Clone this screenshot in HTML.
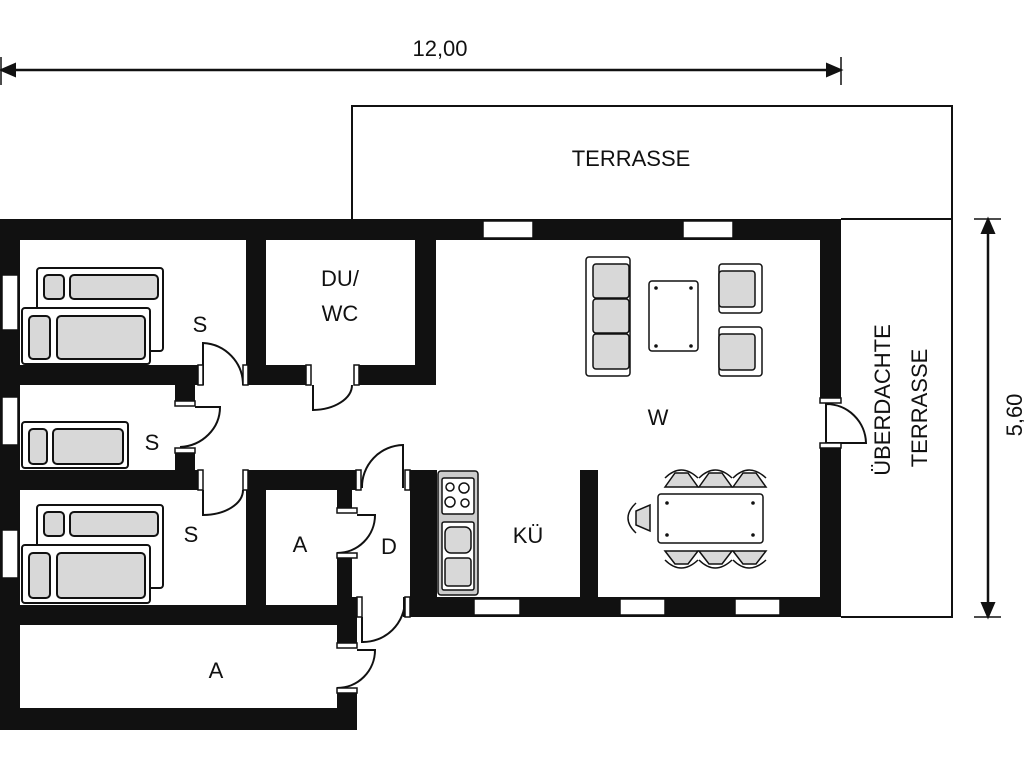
<!DOCTYPE html>
<html><head><meta charset="utf-8"><style>
html,body{margin:0;padding:0;background:#fff;}
svg{display:block;}
text{font-family:"Liberation Sans",sans-serif;fill:#111;}
</style></head><body>
<svg width="1024" height="768" viewBox="0 0 1024 768" xmlns="http://www.w3.org/2000/svg">
<defs>
<marker id="ar" viewBox="0 0 10 10" refX="10" refY="5" markerWidth="10" markerHeight="10" markerUnits="userSpaceOnUse" orient="auto"><path d="M0,1 L10,5 L0,9Z" fill="#111"/></marker>
</defs>
<g stroke="#111" stroke-width="2" fill="none">
<!-- dimension lines -->
<line x1="3" y1="70" x2="838" y2="70" stroke-width="2.5"/>
<path d="M1,70 l14,-6 v12z" fill="#111"/>
<path d="M841,70 l-14,-6 v12z" fill="#111"/>
<line x1="1" y1="57" x2="1" y2="85" stroke-width="1.5"/>
<line x1="841" y1="57" x2="841" y2="85" stroke-width="1.5"/>
<line x1="988" y1="222" x2="988" y2="614" stroke-width="2.5"/>
<path d="M988,219 l-6,14 h12z" fill="#111"/>
<path d="M988,617 l-6,-14 h12z" fill="#111"/>
<line x1="974" y1="219" x2="1001" y2="219" stroke-width="1.5"/>
<line x1="974" y1="617" x2="1001" y2="617" stroke-width="1.5"/>
<!-- terraces -->
<path d="M352,219 V106 H952 V617 H841"/>
<line x1="841" y1="219" x2="952" y2="219"/>
</g>
<!-- walls -->
<g fill="#111">
<rect x="0" y="219" width="841" height="21"/>
<rect x="0" y="219" width="20" height="511"/>
<rect x="820" y="219" width="21" height="398"/>
<rect x="403" y="597" width="438" height="20"/>
<rect x="0" y="708" width="357" height="22"/>
<rect x="337" y="470" width="20" height="260"/>
<rect x="246" y="240" width="20" height="145"/>
<rect x="415" y="219" width="21" height="166"/>
<rect x="0" y="365" width="436" height="20"/>
<rect x="175" y="365" width="20" height="125"/>
<rect x="0" y="470" width="357" height="20"/>
<rect x="246" y="470" width="20" height="135"/>
<rect x="0" y="605" width="357" height="20"/>
<rect x="357" y="470" width="80" height="20"/>
<rect x="410" y="470" width="27" height="147"/>
<rect x="580" y="470" width="18" height="130"/>
</g>
<!-- openings: windows & door gaps -->
<g fill="#fff" stroke="#111" stroke-width="1.5">
<!-- top windows -->
<rect x="483" y="221" width="50" height="17"/>
<rect x="683" y="221" width="50" height="17"/>
<!-- left windows -->
<rect x="2" y="275" width="16" height="55"/>
<rect x="2" y="397" width="16" height="48"/>
<rect x="2" y="530" width="16" height="48"/>
<!-- bottom windows -->
<rect x="474" y="599" width="46" height="16"/>
<rect x="620" y="599" width="45" height="16"/>
<rect x="735" y="599" width="45" height="16"/>
</g>
<g fill="#fff">
<rect x="200" y="364" width="46" height="22"/>
<rect x="307" y="364" width="50" height="22"/>
<rect x="174" y="403" width="22" height="47"/>
<rect x="200" y="469" width="46" height="22"/>
<rect x="357" y="469" width="53" height="22"/>
<rect x="336" y="510" width="22" height="45"/>
<rect x="357" y="596" width="46" height="22"/>
<rect x="336" y="645" width="22" height="45"/>
<rect x="819" y="400" width="23" height="45"/>
<rect x="352" y="490" width="58" height="107"/>
</g>
<!-- doors -->
<g stroke="#111" stroke-width="2" fill="none">
<path d="M203,385 V343 A42,42 0 0 1 243,385"/>
<path d="M313,385 V410 A40,25 0 0 0 352,385"/>
<path d="M195,407 H220 A42,40 0 0 1 180,447"/>
<path d="M203,490 V515 A40,25 0 0 0 243,490"/>
<path d="M403,488 V445 A42,42 0 0 0 362,488"/>
<path d="M357,515 H375 A38,38 0 0 1 337,553"/>
<path d="M362,617 V642 A42,42 0 0 0 405,600"/>
<path d="M357,650 H375 A38,38 0 0 1 337,688"/>
<path d="M826,445 V404 A40,40 0 0 1 866,443 H826"/>
</g>
<g stroke="#111" stroke-width="1.5" fill="#fff">
<rect x="198" y="365" width="5" height="20"/><rect x="243" y="365" width="5" height="20"/>
<rect x="306" y="365" width="5" height="20"/><rect x="354" y="365" width="5" height="20"/>
<rect x="175" y="401" width="20" height="5"/><rect x="175" y="448" width="20" height="5"/>
<rect x="198" y="470" width="5" height="20"/><rect x="243" y="470" width="5" height="20"/>
<rect x="356" y="470" width="5" height="20"/><rect x="405" y="470" width="5" height="20"/>
<rect x="337" y="508" width="20" height="5"/><rect x="337" y="553" width="20" height="5"/>
<rect x="357" y="597" width="5" height="20"/><rect x="405" y="597" width="5" height="20"/>
<rect x="337" y="643" width="20" height="5"/><rect x="337" y="688" width="20" height="5"/>
<rect x="820" y="398" width="21" height="5"/><rect x="820" y="443" width="21" height="5"/>
</g>
<!-- beds -->
<g stroke="#111" stroke-width="2">
<rect x="37" y="268" width="126" height="83" rx="3" fill="#fff"/>
<rect x="44" y="275" width="20" height="24" rx="4" fill="#d8d8d8"/>
<rect x="70" y="275" width="88" height="24" rx="4" fill="#d8d8d8"/>
<rect x="22" y="308" width="128" height="56" rx="3" fill="#fff"/>
<rect x="29" y="316" width="21" height="43" rx="4" fill="#d8d8d8"/>
<rect x="57" y="316" width="88" height="43" rx="4" fill="#d8d8d8"/>
<rect x="22" y="422" width="106" height="46" rx="3" fill="#fff"/>
<rect x="29" y="429" width="18" height="35" rx="4" fill="#d8d8d8"/>
<rect x="53" y="429" width="70" height="35" rx="4" fill="#d8d8d8"/>
<rect x="37" y="505" width="126" height="83" rx="3" fill="#fff"/>
<rect x="44" y="512" width="20" height="24" rx="4" fill="#d8d8d8"/>
<rect x="70" y="512" width="88" height="24" rx="4" fill="#d8d8d8"/>
<rect x="22" y="545" width="128" height="58" rx="3" fill="#fff"/>
<rect x="29" y="553" width="21" height="45" rx="4" fill="#d8d8d8"/>
<rect x="57" y="553" width="88" height="45" rx="4" fill="#d8d8d8"/>
</g>
<!-- kitchen -->
<g stroke="#111" stroke-width="1.5">
<rect x="438" y="471" width="40" height="124" rx="3" fill="#ccc"/>
<rect x="442" y="478" width="32" height="36" rx="2" fill="#fff"/>
<circle cx="450" cy="487" r="4" fill="#fff"/><circle cx="464" cy="488" r="5" fill="#fff"/>
<circle cx="450" cy="502" r="5" fill="#fff"/><circle cx="465" cy="503" r="4" fill="#fff"/>
<rect x="442" y="522" width="32" height="68" rx="2" fill="#fff"/>
<rect x="445" y="527" width="26" height="26" rx="6" fill="#d8d8d8"/>
<rect x="445" y="558" width="26" height="28" rx="3" fill="#d8d8d8"/>
</g>
<!-- living -->
<g stroke="#111" stroke-width="1.5">
<rect x="586" y="257" width="44" height="119" rx="3" fill="#fff"/>
<rect x="593" y="264" width="36" height="34" rx="3" fill="#d8d8d8"/>
<rect x="593" y="299" width="36" height="34" rx="3" fill="#d8d8d8"/>
<rect x="593" y="334" width="36" height="35" rx="3" fill="#d8d8d8"/>
<rect x="649" y="281" width="49" height="70" rx="3" fill="#fff"/>
<rect x="719" y="264" width="43" height="49" rx="3" fill="#fff"/>
<rect x="719" y="271" width="36" height="36" rx="3" fill="#d8d8d8"/>
<rect x="719" y="327" width="43" height="49" rx="3" fill="#fff"/>
<rect x="719" y="334" width="36" height="36" rx="3" fill="#d8d8d8"/>
<rect x="658" y="494" width="105" height="49" rx="3" fill="#fff"/>
</g>
<g fill="#111">
<circle cx="656" cy="288" r="1.8"/><circle cx="691" cy="288" r="1.8"/><circle cx="656" cy="346" r="1.8"/><circle cx="691" cy="346" r="1.8"/>
<circle cx="667" cy="503" r="1.8"/><circle cx="753" cy="503" r="1.8"/><circle cx="667" cy="535" r="1.8"/><circle cx="753" cy="535" r="1.8"/>
</g>
<g stroke="#111" stroke-width="1.5" fill="#d8d8d8">
<path d="M665,487 L675,473 H688 L698,487Z"/><path d="M699,487 L709,473 H722 L732,487Z"/><path d="M733,487 L743,473 H756 L766,487Z"/>
<path d="M665,551 L675,564 H688 L698,551Z"/><path d="M699,551 L709,564 H722 L732,551Z"/><path d="M733,551 L743,564 H756 L766,551Z"/>
<path d="M650,505 L650,531 L636,525 V511Z"/>
</g>
<g stroke="#111" stroke-width="1.5" fill="none">
<path d="M665,478 Q681,462 698,478"/><path d="M699,478 Q715,462 732,478"/><path d="M733,478 Q749,462 766,478"/>
<path d="M665,560 Q681,576 698,560"/><path d="M699,560 Q715,576 732,560"/><path d="M733,560 Q749,576 766,560"/>
<path d="M636,503 Q620,518 636,533"/>
</g>
<!-- labels -->
<g font-size="22" text-anchor="middle">
<text x="440" y="56">12,00</text>
<text x="631" y="166">TERRASSE</text>
<text x="340" y="286">DU/</text>
<text x="340" y="321">WC</text>
<text x="200" y="332">S</text>
<text x="152" y="450">S</text>
<text x="191" y="542">S</text>
<text x="300" y="552">A</text>
<text x="389" y="554">D</text>
<text x="528" y="543">KÜ</text>
<text x="658" y="425">W</text>
<text x="216" y="678">A</text>
<text transform="translate(890,400) rotate(-90)">ÜBERDACHTE</text>
<text transform="translate(927,408) rotate(-90)">TERRASSE</text>
<text transform="translate(1022,415) rotate(-90)">5,60</text>
</g>
</svg>
</body></html>
